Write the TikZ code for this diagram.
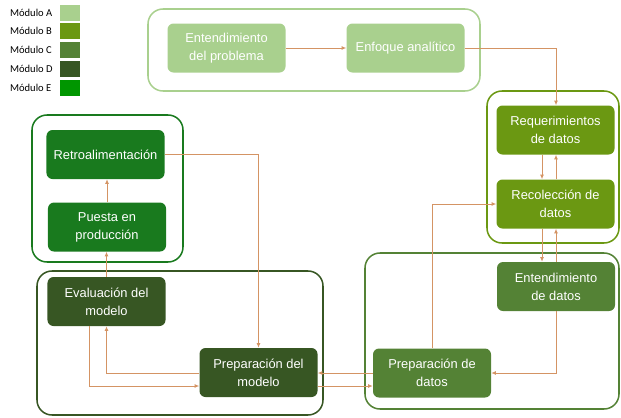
\documentclass[tikz,border=0pt]{standalone}
\usepackage{fontspec}
\setmainfont{Liberation Sans}
\newfontfamily\legfont{Carlito}
\usetikzlibrary{arrows.meta}
\definecolor{modA}{RGB}{169,208,142}
\definecolor{modB}{RGB}{107,152,18}
\definecolor{modC}{RGB}{84,130,53}
\definecolor{modD}{RGB}{55,86,35}
\definecolor{modE}{RGB}{0,150,0}
\definecolor{cajaE}{RGB}{25,122,30}
\definecolor{flecha}{RGB}{212,148,100}
\tikzset{
	caja/.style={rectangle, rounded corners=0.18cm, minimum width=3.54cm, minimum height=1.47cm, align=center, text=white, inner sep=2pt, font=\fontsize{11}{15.5}\selectfont},
	flujo/.style={draw=flecha, line width=0.8pt, -{Latex[length=4pt,width=3.5pt]}},
	marco/.style={rounded corners=0.45cm, line width=1.3pt}
}
\begin{document}
\begin{tikzpicture}[x=0.03cm, y=-0.03cm]
	\useasboundingbox (0,0) rectangle (621,417);
	\foreach \m/\c [count=\i from 0] in {A/modA, B/modB, C/modC, D/modD, E/modE}{
		\node[anchor=west, font=\legfont\fontsize{9}{10}\selectfont] (leg\m) at (6,12.5+18.8*\i) {Módulo \m};
		\fill[\c] (60,4.5+18.8*\i) rectangle (80,20.5+18.8*\i);
	}
	\draw[marco, draw=modA] (148,9) rectangle (480,91);
	\draw[marco, draw=modB] (487,91) rectangle (619,243);
	\draw[marco, draw=modC] (365,253) rectangle (619,409);
	\draw[marco, draw=modD] (37,271) rectangle (323,415);
	\draw[marco, draw=cajaE] (32,115) rectangle (183,262);
	\node[caja, fill=modA] (probl) at (226.5,48) {Entendimiento\\del problema};
	\node[caja, fill=modA] (enfoque) at (405.5,48) {Enfoque analítico};
	\node[caja, fill=modB] (reqdat) at (555.5,130) {Requerimientos\\de datos};
	\node[caja, fill=modB] (recol) at (555.5,204) {Recolección de\\datos};
	\node[caja, fill=modC] (entdat) at (556,286.5) {Entendimiento\\de datos};
	\node[caja, fill=modC] (prepdat) at (432,373) {Preparación de\\datos};
	\node[caja, fill=modD] (prepmod) at (258.5,372.5) {Preparación del\\modelo};
	\node[caja, fill=modD] (evalmod) at (106.5,301.5) {Evaluación del\\modelo};
	\node[caja, fill=cajaE] (puesta) at (107,227) {Puesta en\\producción};
	\node[caja, fill=cajaE] (retro) at (105.5,154.5) {Retroalimentación};
	\coordinate (baja) at (542,0);
	\coordinate (sube) at (556,0);
	\coordinate (izq) at (89,0);
	\coordinate (fila1) at (0,373);
	\coordinate (fila2) at (0,386);
	\draw[flujo] (probl) -- (enfoque);
	\draw[flujo] (enfoque.east) -| (reqdat.north -| sube);
	\draw[flujo] (reqdat.south -| baja) -- (recol.north -| baja);
	\draw[flujo] (recol.north -| sube) -- (reqdat.south -| sube);
	\draw[flujo] (recol.south -| baja) -- (entdat.north -| baja);
	\draw[flujo] (entdat.north -| sube) -- (recol.south -| sube);
	\draw[flujo] (entdat.south -| sube) |- (prepdat.east |- fila1);
	\draw[flujo] (prepdat.north) |- (recol.west);
	\draw[flujo] (prepdat.west |- fila1) -- (prepmod.east |- fila1);
	\draw[flujo] (prepmod.east |- fila2) -- (prepdat.west |- fila2);
	\draw[flujo] (prepmod.west |- fila1) -| (evalmod.south);
	\draw[flujo] (evalmod.south -| izq) |- (prepmod.west |- fila2);
	\draw[flujo] (evalmod.north) -- (puesta.south -| evalmod.north);
	\draw[flujo] (puesta.north) -- (retro.south -| puesta.north);
	\draw[flujo] (retro.east) -| (prepmod.north);
\end{tikzpicture}
\end{document}
